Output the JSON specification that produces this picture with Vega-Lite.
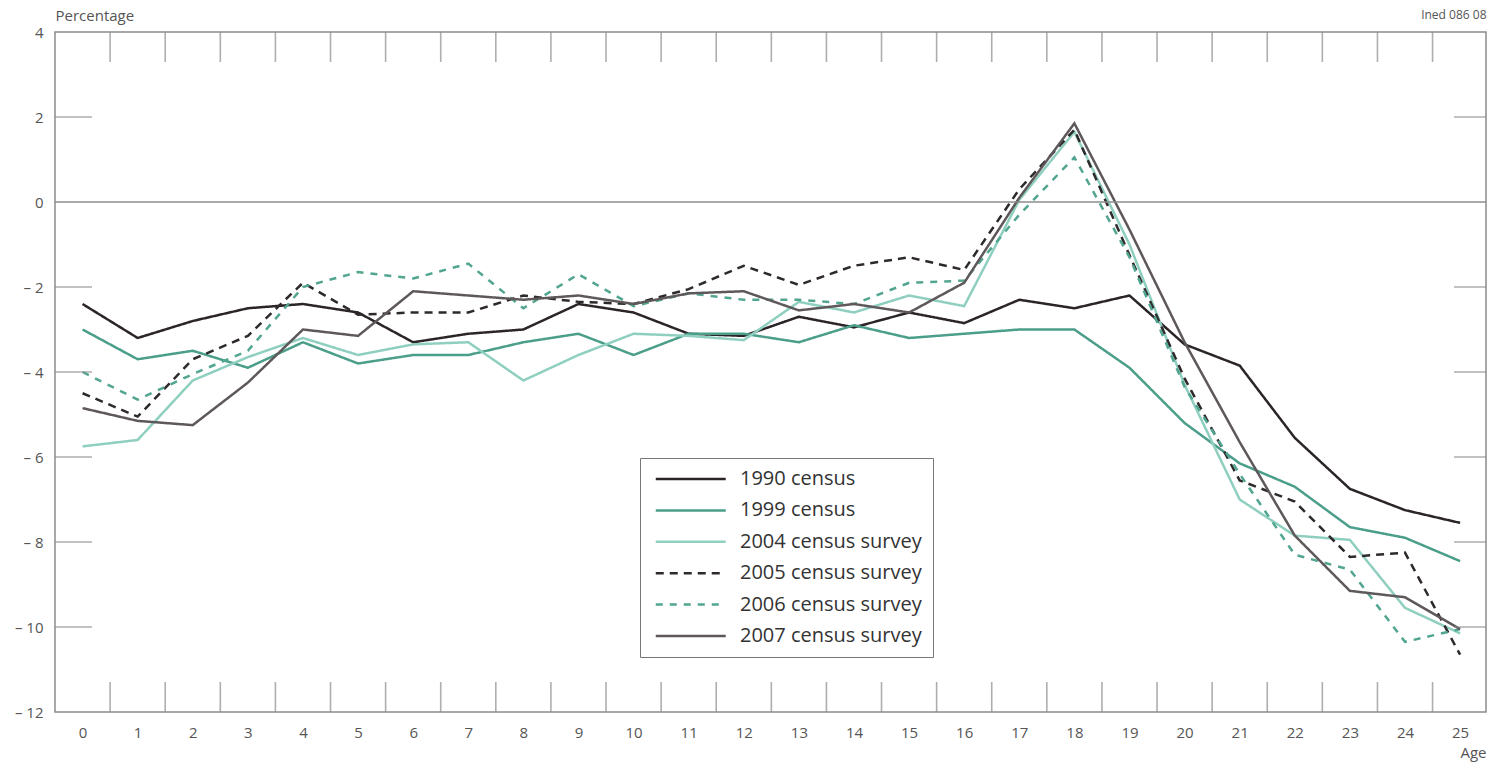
{
  "$schema": "https://vega.github.io/schema/vega-lite/v6.json",
  "width": 1431,
  "height": 680,
  "autosize": {"type": "none"},
  "padding": {"left": 55, "top": 32, "right": 5, "bottom": 53},
  "background": "white",
  "config": {
    "view": {"stroke": "#8c8c8c", "strokeWidth": 1.5},
    "font": "Open Sans"
  },
  "datasets": {
    "lines": [
      {"age":0,"series":"1990 census","pct":-2.4},{"age":1,"series":"1990 census","pct":-3.2},{"age":2,"series":"1990 census","pct":-2.8},{"age":3,"series":"1990 census","pct":-2.5},{"age":4,"series":"1990 census","pct":-2.4},{"age":5,"series":"1990 census","pct":-2.6},{"age":6,"series":"1990 census","pct":-3.3},{"age":7,"series":"1990 census","pct":-3.1},{"age":8,"series":"1990 census","pct":-3.0},{"age":9,"series":"1990 census","pct":-2.4},{"age":10,"series":"1990 census","pct":-2.6},{"age":11,"series":"1990 census","pct":-3.1},{"age":12,"series":"1990 census","pct":-3.15},{"age":13,"series":"1990 census","pct":-2.7},{"age":14,"series":"1990 census","pct":-2.95},{"age":15,"series":"1990 census","pct":-2.6},{"age":16,"series":"1990 census","pct":-2.85},{"age":17,"series":"1990 census","pct":-2.3},{"age":18,"series":"1990 census","pct":-2.5},{"age":19,"series":"1990 census","pct":-2.2},{"age":20,"series":"1990 census","pct":-3.35},{"age":21,"series":"1990 census","pct":-3.85},{"age":22,"series":"1990 census","pct":-5.55},{"age":23,"series":"1990 census","pct":-6.75},{"age":24,"series":"1990 census","pct":-7.25},{"age":25,"series":"1990 census","pct":-7.55},
      {"age":0,"series":"1999 census","pct":-3.0},{"age":1,"series":"1999 census","pct":-3.7},{"age":2,"series":"1999 census","pct":-3.5},{"age":3,"series":"1999 census","pct":-3.9},{"age":4,"series":"1999 census","pct":-3.3},{"age":5,"series":"1999 census","pct":-3.8},{"age":6,"series":"1999 census","pct":-3.6},{"age":7,"series":"1999 census","pct":-3.6},{"age":8,"series":"1999 census","pct":-3.3},{"age":9,"series":"1999 census","pct":-3.1},{"age":10,"series":"1999 census","pct":-3.6},{"age":11,"series":"1999 census","pct":-3.1},{"age":12,"series":"1999 census","pct":-3.1},{"age":13,"series":"1999 census","pct":-3.3},{"age":14,"series":"1999 census","pct":-2.9},{"age":15,"series":"1999 census","pct":-3.2},{"age":16,"series":"1999 census","pct":-3.1},{"age":17,"series":"1999 census","pct":-3.0},{"age":18,"series":"1999 census","pct":-3.0},{"age":19,"series":"1999 census","pct":-3.9},{"age":20,"series":"1999 census","pct":-5.2},{"age":21,"series":"1999 census","pct":-6.15},{"age":22,"series":"1999 census","pct":-6.7},{"age":23,"series":"1999 census","pct":-7.65},{"age":24,"series":"1999 census","pct":-7.9},{"age":25,"series":"1999 census","pct":-8.45},
      {"age":0,"series":"2004 census survey","pct":-5.75},{"age":1,"series":"2004 census survey","pct":-5.6},{"age":2,"series":"2004 census survey","pct":-4.2},{"age":3,"series":"2004 census survey","pct":-3.65},{"age":4,"series":"2004 census survey","pct":-3.2},{"age":5,"series":"2004 census survey","pct":-3.6},{"age":6,"series":"2004 census survey","pct":-3.35},{"age":7,"series":"2004 census survey","pct":-3.3},{"age":8,"series":"2004 census survey","pct":-4.2},{"age":9,"series":"2004 census survey","pct":-3.6},{"age":10,"series":"2004 census survey","pct":-3.1},{"age":11,"series":"2004 census survey","pct":-3.15},{"age":12,"series":"2004 census survey","pct":-3.25},{"age":13,"series":"2004 census survey","pct":-2.35},{"age":14,"series":"2004 census survey","pct":-2.6},{"age":15,"series":"2004 census survey","pct":-2.2},{"age":16,"series":"2004 census survey","pct":-2.45},{"age":17,"series":"2004 census survey","pct":0.05},{"age":18,"series":"2004 census survey","pct":1.65},{"age":19,"series":"2004 census survey","pct":-1.0},{"age":20,"series":"2004 census survey","pct":-4.3},{"age":21,"series":"2004 census survey","pct":-7.0},{"age":22,"series":"2004 census survey","pct":-7.85},{"age":23,"series":"2004 census survey","pct":-7.95},{"age":24,"series":"2004 census survey","pct":-9.55},{"age":25,"series":"2004 census survey","pct":-10.15},
      {"age":0,"series":"2005 census survey","pct":-4.5},{"age":1,"series":"2005 census survey","pct":-5.05},{"age":2,"series":"2005 census survey","pct":-3.7},{"age":3,"series":"2005 census survey","pct":-3.15},{"age":4,"series":"2005 census survey","pct":-1.9},{"age":5,"series":"2005 census survey","pct":-2.65},{"age":6,"series":"2005 census survey","pct":-2.6},{"age":7,"series":"2005 census survey","pct":-2.6},{"age":8,"series":"2005 census survey","pct":-2.2},{"age":9,"series":"2005 census survey","pct":-2.35},{"age":10,"series":"2005 census survey","pct":-2.4},{"age":11,"series":"2005 census survey","pct":-2.05},{"age":12,"series":"2005 census survey","pct":-1.5},{"age":13,"series":"2005 census survey","pct":-1.95},{"age":14,"series":"2005 census survey","pct":-1.5},{"age":15,"series":"2005 census survey","pct":-1.3},{"age":16,"series":"2005 census survey","pct":-1.6},{"age":17,"series":"2005 census survey","pct":0.3},{"age":18,"series":"2005 census survey","pct":1.7},{"age":19,"series":"2005 census survey","pct":-1.25},{"age":20,"series":"2005 census survey","pct":-4.15},{"age":21,"series":"2005 census survey","pct":-6.55},{"age":22,"series":"2005 census survey","pct":-7.05},{"age":23,"series":"2005 census survey","pct":-8.35},{"age":24,"series":"2005 census survey","pct":-8.25},{"age":25,"series":"2005 census survey","pct":-10.65},
      {"age":0,"series":"2006 census survey","pct":-4.0},{"age":1,"series":"2006 census survey","pct":-4.65},{"age":2,"series":"2006 census survey","pct":-4.05},{"age":3,"series":"2006 census survey","pct":-3.5},{"age":4,"series":"2006 census survey","pct":-2.0},{"age":5,"series":"2006 census survey","pct":-1.65},{"age":6,"series":"2006 census survey","pct":-1.8},{"age":7,"series":"2006 census survey","pct":-1.45},{"age":8,"series":"2006 census survey","pct":-2.5},{"age":9,"series":"2006 census survey","pct":-1.7},{"age":10,"series":"2006 census survey","pct":-2.45},{"age":11,"series":"2006 census survey","pct":-2.15},{"age":12,"series":"2006 census survey","pct":-2.3},{"age":13,"series":"2006 census survey","pct":-2.3},{"age":14,"series":"2006 census survey","pct":-2.4},{"age":15,"series":"2006 census survey","pct":-1.9},{"age":16,"series":"2006 census survey","pct":-1.85},{"age":17,"series":"2006 census survey","pct":-0.3},{"age":18,"series":"2006 census survey","pct":1.05},{"age":19,"series":"2006 census survey","pct":-1.3},{"age":20,"series":"2006 census survey","pct":-4.35},{"age":21,"series":"2006 census survey","pct":-6.4},{"age":22,"series":"2006 census survey","pct":-8.3},{"age":23,"series":"2006 census survey","pct":-8.65},{"age":24,"series":"2006 census survey","pct":-10.35},{"age":25,"series":"2006 census survey","pct":-10.05},
      {"age":0,"series":"2007 census survey","pct":-4.85},{"age":1,"series":"2007 census survey","pct":-5.15},{"age":2,"series":"2007 census survey","pct":-5.25},{"age":3,"series":"2007 census survey","pct":-4.25},{"age":4,"series":"2007 census survey","pct":-3.0},{"age":5,"series":"2007 census survey","pct":-3.15},{"age":6,"series":"2007 census survey","pct":-2.1},{"age":7,"series":"2007 census survey","pct":-2.2},{"age":8,"series":"2007 census survey","pct":-2.3},{"age":9,"series":"2007 census survey","pct":-2.2},{"age":10,"series":"2007 census survey","pct":-2.4},{"age":11,"series":"2007 census survey","pct":-2.15},{"age":12,"series":"2007 census survey","pct":-2.1},{"age":13,"series":"2007 census survey","pct":-2.55},{"age":14,"series":"2007 census survey","pct":-2.4},{"age":15,"series":"2007 census survey","pct":-2.6},{"age":16,"series":"2007 census survey","pct":-1.9},{"age":17,"series":"2007 census survey","pct":0.1},{"age":18,"series":"2007 census survey","pct":1.85},{"age":19,"series":"2007 census survey","pct":-0.65},{"age":20,"series":"2007 census survey","pct":-3.3},{"age":21,"series":"2007 census survey","pct":-5.65},{"age":22,"series":"2007 census survey","pct":-7.85},{"age":23,"series":"2007 census survey","pct":-9.15},{"age":24,"series":"2007 census survey","pct":-9.3},{"age":25,"series":"2007 census survey","pct":-10.05}
    ],
    "xt": [{"t":0.5},{"t":1.5},{"t":2.5},{"t":3.5},{"t":4.5},{"t":5.5},{"t":6.5},{"t":7.5},{"t":8.5},{"t":9.5},{"t":10.5},{"t":11.5},{"t":12.5},{"t":13.5},{"t":14.5},{"t":15.5},{"t":16.5},{"t":17.5},{"t":18.5},{"t":19.5},{"t":20.5},{"t":21.5},{"t":22.5},{"t":23.5},{"t":24.5}],
    "yt": [{"v":-10},{"v":-8},{"v":-6},{"v":-4},{"v":-2},{"v":2}]
  },
  "layer": [
    {
      "data": {"name": "lines"},
      "mark": {"type": "line"},
      "encoding": {
        "x": {
          "field": "age", "type": "quantitative",
          "scale": {"domain": [-0.5, 25.47], "nice": false, "zero": false},
          "axis": {"orient": "bottom", "values": [0,1,2,3,4,5,6,7,8,9,10,11,12,13,14,15,16,17,18,19,20,21,22,23,24,25], "ticks": false, "domain": false, "grid": false, "labelPadding": 13, "labelFontSize": 15, "labelColor": "#555", "labelFont": "Open Sans", "title": "Age", "titleX": 1431, "titleY": 45, "titleAlign": "right", "titleAnchor": null, "titleBaseline": "alphabetic", "titleFontSize": 15, "titleFontWeight": "normal", "titleColor": "#555", "titleFont": "Open Sans"}
        },
        "y": {
          "field": "pct", "type": "quantitative",
          "scale": {"domain": [-12, 4], "nice": false, "zero": false},
          "axis": {"orient": "left", "values": [-12,-10,-8,-6,-4,-2,0,2,4], "ticks": false, "domain": false, "grid": false, "labelPadding": 12, "labelFontSize": 15, "labelColor": "#555", "labelFont": "Open Sans", "labelExpr": "datum.value < 0 ? '\u2013 ' + abs(datum.value) : datum.label", "title": "Percentage", "titleAngle": 0, "titleX": 0, "titleY": -12, "titleAlign": "left", "titleAnchor": null, "titleBaseline": "alphabetic", "titleFontSize": 15, "titleFontWeight": "normal", "titleColor": "#555", "titleFont": "Open Sans"}
        },
        "color": {
          "field": "series", "type": "nominal",
          "scale": {"domain": ["1990 census","1999 census","2004 census survey","2005 census survey","2006 census survey","2007 census survey"], "range": ["#2b2527","#4b9e8a","#8fcfc0","#2e2a2b","#52a590","#5e585a"]},
          "legend": {"orient": "none", "legendX": 585, "legendY": 426, "title": null, "symbolType": "M-0.6,0H7.4", "symbolSize": 306, "labelFontSize": 20, "labelColor": "#333", "labelFont": "Open Sans", "labelOffset": 69, "labelLimit": 400, "padding": 11, "rowPadding": 11.4, "strokeColor": "#777", "fillColor": "white"}
        },
        "strokeDash": {
          "field": "series", "type": "nominal",
          "scale": {"domain": ["1990 census","1999 census","2004 census survey","2005 census survey","2006 census survey","2007 census survey"], "range": [[1,0],[1,0],[1,0],[8,6],[7,7],[1,0]]},
          "legend": {"orient": "none", "legendX": 585, "legendY": 426, "title": null, "symbolType": "M-0.6,0H7.4", "symbolSize": 306, "labelFontSize": 20, "labelColor": "#333", "labelFont": "Open Sans", "labelOffset": 69, "labelLimit": 400, "padding": 11, "rowPadding": 11.4, "strokeColor": "#777", "fillColor": "white"}
        },
        "strokeWidth": {
          "field": "series", "type": "nominal",
          "scale": {"domain": ["1990 census","1999 census","2004 census survey","2005 census survey","2006 census survey","2007 census survey"], "range": [2.5,2.5,1.1,2.5,2.0,1.3]},
          "legend": {"orient": "none", "legendX": 585, "legendY": 426, "title": null, "symbolType": "M-0.6,0H7.4", "symbolSize": 306, "labelFontSize": 20, "labelColor": "#333", "labelFont": "Open Sans", "labelOffset": 69, "labelLimit": 400, "padding": 11, "rowPadding": 11.4, "strokeColor": "#777", "fillColor": "white"}
        }
      }
    },
    {
      "data": {"values": [{}]},
      "mark": {"type": "rule", "color": "#8c8c8c", "strokeWidth": 1.5},
      "encoding": {
        "y": {"datum": 0, "type": "quantitative",
          "axis": {"orient": "left", "values": [-12,-10,-8,-6,-4,-2,0,2,4], "ticks": false, "domain": false, "grid": false, "labelPadding": 12, "labelFontSize": 15, "labelColor": "#555", "labelFont": "Open Sans", "labelExpr": "datum.value < 0 ? '\u2013 ' + abs(datum.value) : datum.label", "title": "Percentage", "titleAngle": 0, "titleX": 0, "titleY": -12, "titleAlign": "left", "titleAnchor": null, "titleBaseline": "alphabetic", "titleFontSize": 15, "titleFontWeight": "normal", "titleColor": "#555", "titleFont": "Open Sans"}}
      }
    },
    {
      "data": {"name": "xt"},
      "mark": {"type": "tick", "orient": "vertical", "size": 60, "thickness": 1.6, "color": "#8c8c8c", "clip": true},
      "encoding": {
        "x": {"field": "t", "type": "quantitative", "axis": {"orient": "top", "labels": false, "ticks": false, "domain": false, "grid": false, "title": "Ined 086 08", "titleX": 1431, "titleY": -14, "titleAlign": "right", "titleAnchor": null, "titleBaseline": "alphabetic", "titleFontSize": 12, "titleFontWeight": "normal", "titleColor": "#555", "titleFont": "Open Sans"}},
        "y": {"datum": 4, "type": "quantitative",
          "axis": {"orient": "left", "values": [-12,-10,-8,-6,-4,-2,0,2,4], "ticks": false, "domain": false, "grid": false, "labelPadding": 12, "labelFontSize": 15, "labelColor": "#555", "labelFont": "Open Sans", "labelExpr": "datum.value < 0 ? '\u2013 ' + abs(datum.value) : datum.label", "title": "Percentage", "titleAngle": 0, "titleX": 0, "titleY": -12, "titleAlign": "left", "titleAnchor": null, "titleBaseline": "alphabetic", "titleFontSize": 15, "titleFontWeight": "normal", "titleColor": "#555", "titleFont": "Open Sans"}}
      }
    },
    {
      "data": {"name": "xt"},
      "mark": {"type": "tick", "orient": "vertical", "size": 60, "thickness": 1.6, "color": "#8c8c8c", "clip": true},
      "encoding": {
        "x": {"field": "t", "type": "quantitative", "axis": null},
        "y": {"datum": -12, "type": "quantitative",
          "axis": {"orient": "left", "values": [-12,-10,-8,-6,-4,-2,0,2,4], "ticks": false, "domain": false, "grid": false, "labelPadding": 12, "labelFontSize": 15, "labelColor": "#555", "labelFont": "Open Sans", "labelExpr": "datum.value < 0 ? '\u2013 ' + abs(datum.value) : datum.label", "title": "Percentage", "titleAngle": 0, "titleX": 0, "titleY": -12, "titleAlign": "left", "titleAnchor": null, "titleBaseline": "alphabetic", "titleFontSize": 15, "titleFontWeight": "normal", "titleColor": "#555", "titleFont": "Open Sans"}}
      }
    },
    {
      "data": {"name": "yt"},
      "mark": {"type": "tick", "orient": "horizontal", "size": 74, "thickness": 1.6, "color": "#8c8c8c", "clip": true},
      "encoding": {
        "y": {"field": "v", "type": "quantitative",
          "axis": {"orient": "left", "values": [-12,-10,-8,-6,-4,-2,0,2,4], "ticks": false, "domain": false, "grid": false, "labelPadding": 12, "labelFontSize": 15, "labelColor": "#555", "labelFont": "Open Sans", "labelExpr": "datum.value < 0 ? '\u2013 ' + abs(datum.value) : datum.label", "title": "Percentage", "titleAngle": 0, "titleX": 0, "titleY": -12, "titleAlign": "left", "titleAnchor": null, "titleBaseline": "alphabetic", "titleFontSize": 15, "titleFontWeight": "normal", "titleColor": "#555", "titleFont": "Open Sans"}},
        "x": {"datum": -0.5, "type": "quantitative", "axis": null}
      }
    },
    {
      "data": {"name": "yt"},
      "mark": {"type": "tick", "orient": "horizontal", "size": 64, "thickness": 1.6, "color": "#8c8c8c", "clip": true},
      "encoding": {
        "y": {"field": "v", "type": "quantitative",
          "axis": {"orient": "left", "values": [-12,-10,-8,-6,-4,-2,0,2,4], "ticks": false, "domain": false, "grid": false, "labelPadding": 12, "labelFontSize": 15, "labelColor": "#555", "labelFont": "Open Sans", "labelExpr": "datum.value < 0 ? '\u2013 ' + abs(datum.value) : datum.label", "title": "Percentage", "titleAngle": 0, "titleX": 0, "titleY": -12, "titleAlign": "left", "titleAnchor": null, "titleBaseline": "alphabetic", "titleFontSize": 15, "titleFontWeight": "normal", "titleColor": "#555", "titleFont": "Open Sans"}},
        "x": {"datum": 25.47, "type": "quantitative", "axis": null}
      }
    }
  ]
}
